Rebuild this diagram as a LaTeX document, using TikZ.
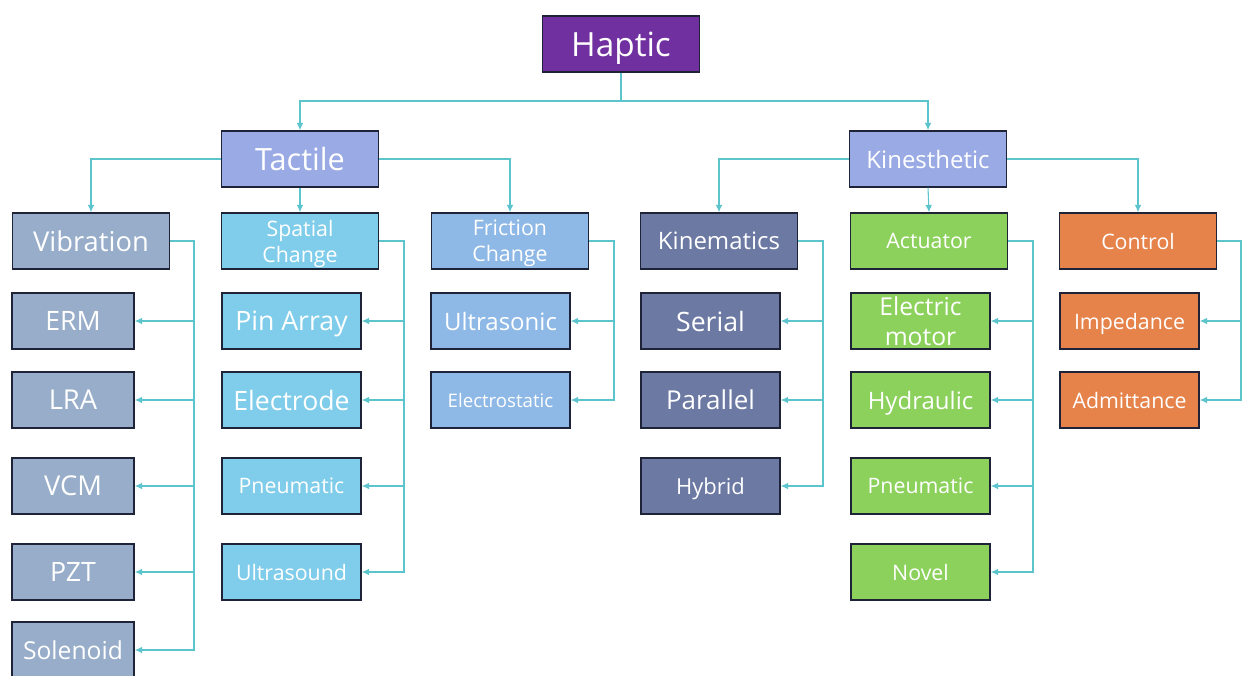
\documentclass[tikz,border=0pt]{standalone}
\usepackage{fontspec}
\setmainfont{Open Sans}
\usetikzlibrary{arrows.meta}

\definecolor{edge}{HTML}{1F2338}
\definecolor{wire}{HTML}{5CC4CC}
\definecolor{hapc}{HTML}{7030A0}
\definecolor{topc}{HTML}{9AAAE4}
\definecolor{vibc}{HTML}{97ADC9}
\definecolor{spac}{HTML}{7FCDEA}
\definecolor{fric}{HTML}{8EB8E5}
\definecolor{kmac}{HTML}{6B79A3}
\definecolor{actc}{HTML}{8CD15C}
\definecolor{ctlc}{HTML}{E6834A}

\newcommand{\fs}[2]{\fontsize{#1}{#2}\selectfont}

\begin{document}
\begin{tikzpicture}[x=0.75pt, y=-0.75pt,
	box/.style={draw=edge, line width=1.1pt, text=white, minimum height=42pt, align=center, inner sep=1pt, text depth=0pt},
	big/.style={box, minimum width=117.75pt},
	small/.style={box, minimum width=91.5pt},
	mid/.style={box, minimum width=104.25pt},
	link/.style={draw=wire, line width=0.8pt, -{Latex[length=5.5pt,width=5pt]}}]

	\useasboundingbox (0,0) rectangle (1244,675);
	\clip (0,0) rectangle (1244,675);

	% top levels
	\node[big, fill=hapc, font=\fs{25}{30}] (hap) at (621,44) {Haptic};
	\node[big, fill=topc, font=\fs{23}{28}] (tac) at (300,159) {Tactile};
	\node[big, fill=topc, font=\fs{18}{22}] (kin) at (928,159) {Kinesthetic};

	% second level
	\node[big, fill=vibc, font=\fs{20.5}{24}] (vib) at (91,241) {Vibration};
	\node[big, fill=spac, font=\fs{16}{19.5}] (spa) at (300,241) {Spatial\\Change};
	\node[big, fill=fric, font=\fs{16}{19.5}] (fri) at (510,241) {Friction\\Change};
	\node[big, fill=kmac, font=\fs{18}{22}] (kma) at (719,241) {Kinematics};
	\node[big, fill=actc, font=\fs{16}{19}] (act) at (929,241) {Actuator};
	\node[big, fill=ctlc, font=\fs{16}{19}] (ctl) at (1138,241) {Control};

	% vibration
	\node[small, fill=vibc, font=\fs{20}{24}] (erm) at (73,321) {ERM};
	\node[small, fill=vibc, font=\fs{20.5}{24}] (lra) at (73,400) {LRA};
	\node[small, fill=vibc, font=\fs{20.5}{24}] (vcm) at (73,486) {VCM};
	\node[small, fill=vibc, font=\fs{20}{24}] (pzt) at (73,572) {PZT};
	\node[small, fill=vibc, font=\fs{18.5}{22}] (sol) at (73,650) {Solenoid};

	% spatial change
	\node[mid, fill=spac, font=\fs{20}{24}] (pin) at (291.5,321) {Pin Array};
	\node[mid, fill=spac, font=\fs{20}{24}] (eld) at (291.5,400) {Electrode};
	\node[mid, fill=spac, font=\fs{16}{19}] (pns) at (291.5,486) {Pneumatic};
	\node[mid, fill=spac, font=\fs{16}{19}] (uls) at (291.5,572) {Ultrasound};

	% friction change
	\node[mid, fill=fric, font=\fs{18}{22}] (ulc) at (500.5,321) {Ultrasonic};
	\node[mid, fill=fric, font=\fs{14}{17}] (els) at (500.5,400) {Electrostatic};

	% kinematics
	\node[mid, fill=kmac, font=\fs{20}{24}] (ser) at (710.5,321) {Serial};
	\node[mid, fill=kmac, font=\fs{19.5}{23}] (par) at (710.5,400) {Parallel};
	\node[mid, fill=kmac, font=\fs{16.5}{20}] (hyb) at (710.5,486) {Hybrid};

	% actuator
	\node[mid, fill=actc, font=\fs{18.5}{23}] (elm) at (920.5,321) {Electric\\motor};
	\node[mid, fill=actc, font=\fs{18}{22}] (hyd) at (920.5,400) {Hydraulic};
	\node[mid, fill=actc, font=\fs{16}{19}] (pna) at (920.5,486) {Pneumatic};
	\node[mid, fill=actc, font=\fs{16}{19}] (nov) at (920.5,572) {Novel};

	% control
	\node[mid, fill=ctlc, font=\fs{16}{19}] (imp) at (1129.5,321) {Impedance};
	\node[mid, fill=ctlc, font=\fs{16}{19}] (adm) at (1129.5,400) {Admittance};

	% bus points
	\coordinate (hb) at (621,101);
	\coordinate (vb) at (194,241);
	\coordinate (sb) at (404,241);
	\coordinate (fb) at (614,241);
	\coordinate (kb) at (823,241);
	\coordinate (ab) at (1033,241);
	\coordinate (cb) at (1241,241);

	% tree links
	\draw[link] (hap.south) -- (hb) -| (tac.north);
	\draw[link] (hb) -| (kin.north);
	\draw[link] (tac.west) -| (vib.north);
	\draw[link] (tac.south) -- (spa.north);
	\draw[link] (tac.east) -| (fri.north);
	\draw[link] (kin.west) -| (kma.north);
	\draw[link] (kin.south) -- (act.north);
	\draw[link] (kin.east) -| (ctl.north);

	% leaf links
	\foreach \c in {erm,lra,vcm,pzt,sol}
		\draw[link] (vib.east) -- (vb) |- (\c.east);
	\foreach \c in {pin,eld,pns,uls}
		\draw[link] (spa.east) -- (sb) |- (\c.east);
	\foreach \c in {ulc,els}
		\draw[link] (fri.east) -- (fb) |- (\c.east);
	\foreach \c in {ser,par,hyb}
		\draw[link] (kma.east) -- (kb) |- (\c.east);
	\foreach \c in {elm,hyd,pna,nov}
		\draw[link] (act.east) -- (ab) |- (\c.east);
	\foreach \c in {imp,adm}
		\draw[link] (ctl.east) -- (cb) |- (\c.east);

\end{tikzpicture}
\end{document}
